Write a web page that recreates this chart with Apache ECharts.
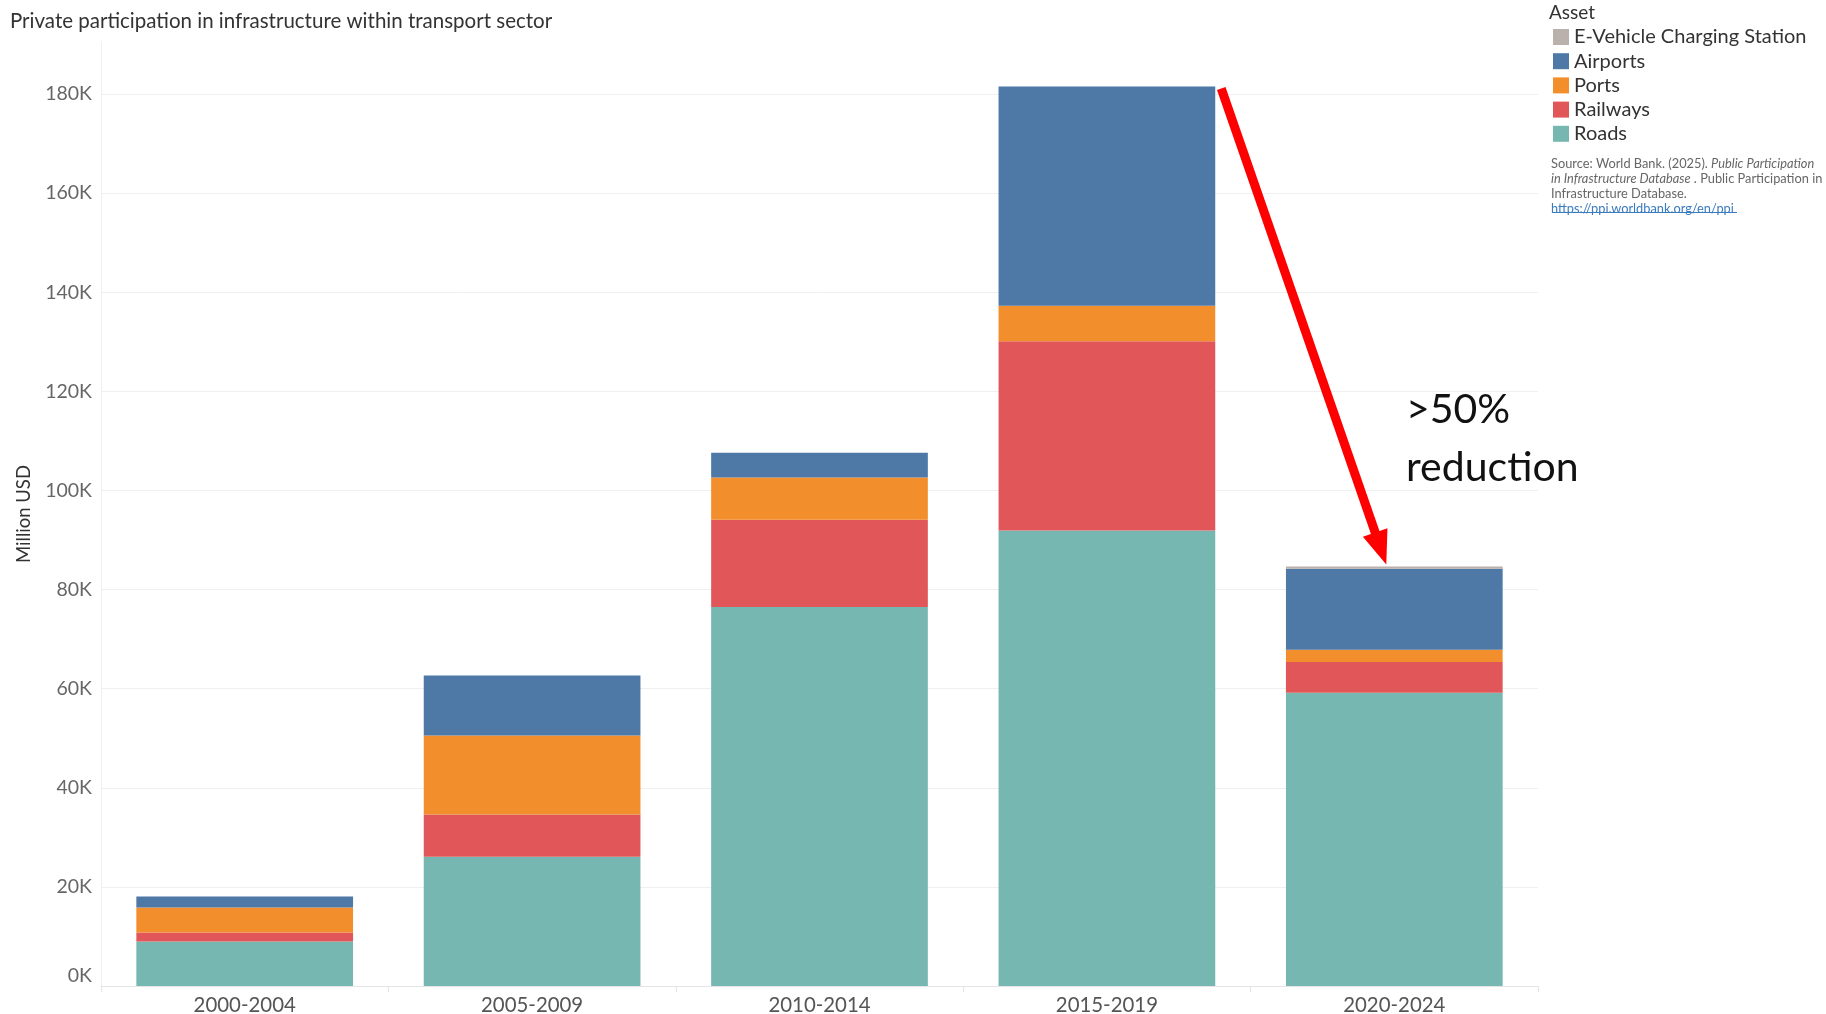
<!DOCTYPE html>
<html>
<head>
<meta charset="utf-8">
<script src="https://cdn.jsdelivr.net/npm/echarts@6/dist/echarts.min.js"></script>
<style>
  html, body { margin: 0; padding: 0; background: #fff; }
  #chart { width: 1826px; height: 1014px; }
</style>
</head>
<body>
<div id="chart"></div>
<script>
const categories = ['2000-2004', '2005-2009', '2010-2014', '2015-2019', '2020-2024']
// million USD
const roads = [8980, 26100, 76500, 91900, 59200]
const railways = [1820, 8500, 17600, 38200, 6200]
const ports = [5040, 15950, 8500, 7200, 2450]
const airports = [2220, 12100, 5000, 44200, 16350]
const evCharging = [0, 0, 0, 0, 450]

const legendOrder = ['E-Vehicle Charging Station', 'Airports', 'Ports', 'Railways', 'Roads']
const yTickStep = 20000
const yMax = 190500

const font = 'Lato, "Noto Sans", sans-serif'
const gapRatio = 0.246

const chart = echarts.init(document.getElementById('chart'), null, { renderer: 'canvas' })

function bar(name, data, color) {
  return {
    name,
    type: 'bar',
    stack: 'total',
    data,
    barCategoryGap: gapRatio * 100 + '%',
    itemStyle: { color },
    emphasis: { disabled: true },
  }
}

chart.setOption({
  animation: false,
  backgroundColor: '#fff',
  textStyle: { fontFamily: font },
  title: {
    text: 'Private participation in infrastructure within transport sector',
    left: 5,
    top: 6,
    textStyle: { fontFamily: font, fontSize: 20.5, fontWeight: 'normal', color: '#333' },
  },
  legend: {
    data: legendOrder,
    orient: 'vertical',
    left: 1548,
    top: 22,
    icon: 'rect',
    itemWidth: 16,
    itemHeight: 16,
    itemGap: 4.2,
    selectedMode: false,
    textStyle: { fontFamily: font, fontSize: 20, color: '#333' },
  },
  grid: { left: 101, right: 288, top: 42, bottom: 28, outerBoundsMode: 'none' },
  xAxis: {
    type: 'category',
    data: categories,
    axisLine: { lineStyle: { color: '#e4e4e4', width: 1 } },
    axisTick: { show: true, length: 6, lineStyle: { color: '#e4e4e4' } },
    axisLabel: { fontFamily: font, fontSize: 20.4, color: '#555', margin: 9 },
  },
  yAxis: {
    type: 'value',
    min: 0,
    max: yMax,
    interval: yTickStep,
    name: 'Million USD',
    nameLocation: 'middle',
    nameGap: 67,
    nameTextStyle: { fontFamily: font, fontSize: 18.5, color: '#333' },
    axisLine: { show: true, lineStyle: { color: '#f0f0f0' } },
    axisTick: { show: false },
    splitLine: { showMaxLine: false, lineStyle: { color: '#efefef', width: 1 } },
    axisLabel: {
      fontFamily: font,
      fontSize: 19.5,
      color: '#666',
      margin: 9,
      showMaxLabel: false,
      formatter: (v) => (v === 0 ? '{z|0K}' : v / 1000 + 'K'),
      rich: { z: { fontFamily: font, fontSize: 19.5, color: '#666', padding: [0, 0, 20, 0] } },
    },
  },
  series: [
    bar('Roads', roads, '#76b7b2'),
    bar('Railways', railways, '#e15759'),
    bar('Ports', ports, '#f28e2b'),
    bar('Airports', airports, '#4e79a7'),
    bar('E-Vehicle Charging Station', evCharging, '#bab0ac'),
  ],
})

// arrow from the 2015-2019 peak down to the 2020-2024 total, placed through the chart's scales
const totals = categories.map((_, i) => roads[i] + railways[i] + ports[i] + airports[i] + evCharging[i])
const px = (i, v) => chart.convertToPixel({ gridIndex: 0 }, [i, v])
const catW = px(1, 0)[0] - px(0, 0)[0]
const barW = catW * (1 - gapRatio)
const p4 = px(3, totals[3])
const p5 = px(4, totals[4])
const start = [p4[0] + barW / 2 + 6, p4[1] + 2]
const tip = [p5[0] - 8, p5[1] - 2]
const dx = tip[0] - start[0]
const dy = tip[1] - start[1]
const len = Math.hypot(dx, dy)
const ux = dx / len
const uy = dy / len
const headLen = 34
const headHalf = 13
const base = [tip[0] - ux * headLen, tip[1] - uy * headLen]

chart.setOption({
  graphic: [
    {
      type: 'line',
      shape: { x1: start[0], y1: start[1], x2: base[0] + ux * 2, y2: base[1] + uy * 2 },
      style: { stroke: '#ff0000', lineWidth: 9 },
      z: 100,
    },
    {
      type: 'polygon',
      shape: {
        points: [
          tip,
          [base[0] - uy * headHalf, base[1] + ux * headHalf],
          [base[0] + uy * headHalf, base[1] - ux * headHalf],
        ],
      },
      style: { fill: '#ff0000' },
      z: 100,
    },
    {
      type: 'text',
      left: 1406,
      top: 381,
      style: {
        text: '>50%\nreduction',
        font: '41px ' + font,
        fill: '#111',
        lineHeight: 58,
      },
    },
    {
      type: 'text',
      left: 1549,
      top: 3,
      style: { text: 'Asset', font: '19px ' + font, fill: '#333' },
    },
    {
      type: 'text',
      left: 1551,
      top: 156,
      style: {
        text: 'Source: World Bank. (2025). {i|Public Participation}\n{i|in Infrastructure Database} . Public Participation in\nInfrastructure Database.\n{a|https://ppi.worldbank.org/en/ppi}',
        font: '12.8px ' + font,
        fill: '#666',
        lineHeight: 15,
        rich: {
          i: { fontStyle: 'italic', fontFamily: font, fontSize: 12.8, fill: '#666', lineHeight: 15 },
          a: { fontFamily: font, fontSize: 12.8, fill: '#3b7bbf', lineHeight: 15 },
        },
      },
    },
    {
      type: 'rect',
      shape: { x: 1552, y: 212, width: 185, height: 1 },
      style: { fill: '#3b7bbf' },
    },
  ],
})
</script>
</body>
</html>
